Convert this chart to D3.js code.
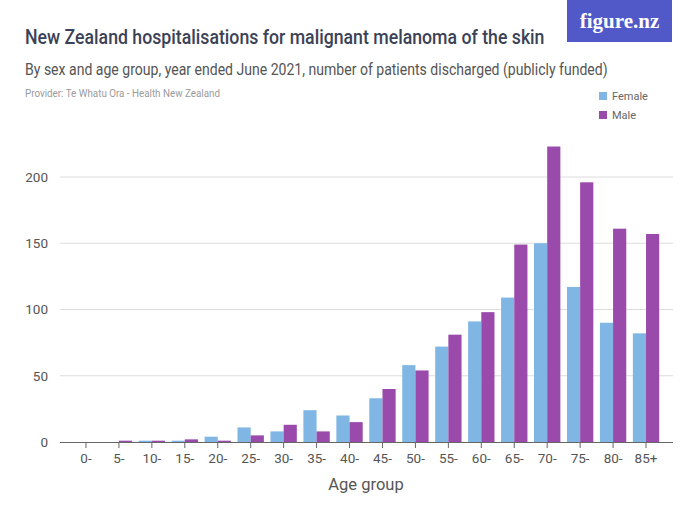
<!DOCTYPE html>
<html>
<head>
<meta charset="utf-8">
<script src="https://cdn.jsdelivr.net/npm/d3@7"></script>
<style>
  html, body { margin: 0; padding: 0; background: #fff; }
  svg { display: block; }
  text { font-family: "Roboto", "Liberation Sans", sans-serif; }
</style>
</head>
<body>
<svg id="chart" width="700" height="525"></svg>
<script>
const categories = ["0-","5-","10-","15-","20-","25-","30-","35-","40-","45-","50-","55-","60-","65-","70-","75-","80-","85+"];
const femaleValues = [0, 0, 1, 1, 4, 11, 8, 24, 20, 33, 58, 72, 91, 109, 150, 117, 90, 82];
const maleValues   = [0, 1, 1, 2, 1, 5, 13, 8, 15, 40, 54, 81, 98, 149, 223, 196, 161, 157];
const seriesNames = ["Female", "Male"];
const seriesColors = ["#7fb6e3", "#9a4aab"];
const yTicks = [0, 50, 100, 150, 200];

const svg = d3.select("#chart");

// Horizontally condensed text: scale so its natural width equals w
function condensedText(x0, y0, w, size, weight, fill, str) {
  const g = svg.append("g");
  const t = g.append("text").attr("x", 0).attr("y", 0)
    .attr("font-size", size).attr("font-weight", weight).attr("fill", fill).text(str);
  const natural = t.node().getComputedTextLength();
  const sx = Math.min(1, w / natural);
  g.attr("transform", `translate(${x0},${y0}) scale(${sx},1)`);
  return t;
}
condensedText(25, 44, 520, 20, 500, "#3b4256", "New Zealand hospitalisations for malignant melanoma of the skin");
condensedText(25, 75, 583, 16, 400, "#555", "By sex and age group, year ended June 2021, number of patients discharged (publicly funded)");
condensedText(25, 97, 195, 10.5, 400, "#9a9a9a", "Provider: Te Whatu Ora - Health New Zealand");

// Logo
svg.append("rect").attr("x", 567).attr("y", 0).attr("width", 105).attr("height", 42).attr("fill", "#5059c7");
svg.append("text").attr("x", 619.5).attr("y", 28).attr("text-anchor", "middle")
  .attr("fill", "#fff").attr("font-size", 21).attr("font-weight", "bold")
  .style("font-family", "'Liberation Serif', 'DejaVu Serif', serif")
  .text("figure.nz");

// Legend
seriesNames.forEach((name, i) => {
  const yy = 96 + i * 19;
  svg.append("rect").attr("x", 599).attr("y", yy - 4).attr("width", 8).attr("height", 8).attr("fill", seriesColors[i]);
  svg.append("text").attr("x", 612).attr("y", yy + 4)
    .attr("font-size", 11).attr("fill", "#666").text(name);
});

// Scales
const x = d3.scaleBand().domain(categories).range([69.5, 662.5]).paddingInner(0.2).paddingOuter(0.1);
const x1 = d3.scaleBand().domain(seriesNames).range([0, x.bandwidth()]);
const y = d3.scaleLinear().domain([0, 200]).range([442, 177]);

// Grid
svg.append("g").selectAll("line").data(yTicks.filter(d => d > 0)).enter().append("line")
  .attr("x1", 60).attr("x2", 673)
  .attr("y1", d => y(d)).attr("y2", d => y(d))
  .attr("stroke", "#dcdcdc").attr("stroke-width", 1);

// Y axis labels
const yAxis = d3.axisLeft(y).tickValues(yTicks).tickSize(0).tickPadding(0);
const ya = svg.append("g").attr("transform", "translate(48,0)").call(yAxis);
ya.select(".domain").remove();
ya.selectAll("text").attr("font-size", 13.5).attr("fill", "#555")
  .style("font-family", "Roboto, sans-serif");

// Bars
const data = categories.map((c, i) => ({ cat: c, vals: [femaleValues[i], maleValues[i]] }));
const groups = svg.append("g").selectAll("g").data(data).enter().append("g")
  .attr("transform", d => `translate(${x(d.cat)},0)`);
groups.selectAll("rect").data(d => d.vals.map((v, i) => ({ name: seriesNames[i], v, i }))).enter().append("rect")
  .attr("x", d => x1(d.name))
  .attr("width", x1.bandwidth())
  .attr("y", d => y(d.v))
  .attr("height", d => y(0) - y(d.v))
  .attr("fill", d => seriesColors[d.i]);

// X axis
const xAxis = d3.axisBottom(x).tickSize(6).tickPadding(5).tickSizeOuter(0);
const xa = svg.append("g").attr("transform", `translate(0,${y(0)})`).call(xAxis);
xa.select(".domain").attr("d", "M60,0.5H673").attr("stroke", "#666");
xa.selectAll(".tick line").attr("stroke", "#666");
xa.selectAll("text").attr("font-size", 13.5).attr("fill", "#555")
  .style("font-family", "Roboto, sans-serif");

svg.append("text").attr("x", 366).attr("y", 490).attr("text-anchor", "middle")
  .attr("font-size", 16.5).attr("fill", "#555").text("Age group");
</script>
</body>
</html>
